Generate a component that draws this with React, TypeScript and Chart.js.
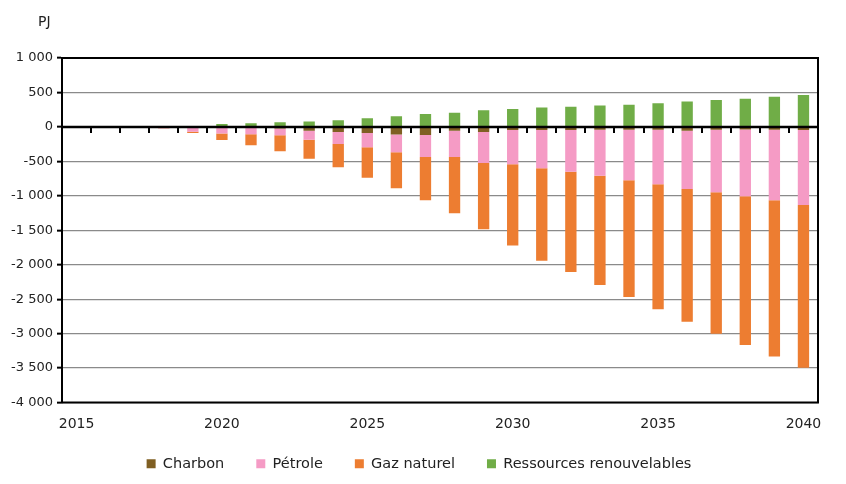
import { useEffect, useRef } from 'react';
import { Chart, registerables } from 'chart.js';

Chart.register(...registerables);

const years = ['2015','2016','2017','2018','2019','2020','2021','2022','2023','2024','2025','2026','2027','2028','2029','2030','2031','2032','2033','2034','2035','2036','2037','2038','2039','2040'];
const shownYears = ['2015','2020','2025','2030','2035','2040'];

const charbon = [0, 0, -3, -5, -5, -8, -12, -25, -55, -75, -88, -112, -118, -55, -75, -45, -45, -45, -42, -40, -40, -55, -40, -38, -40, -45];
const petrole = [0, 0, -9, -13, -65, -86, -96, -98, -130, -174, -209, -257, -319, -382, -449, -498, -556, -605, -666, -735, -794, -846, -909, -969, -1025, -1088];
const gaz = [0, 0, -3, -4, -20, -96, -159, -231, -276, -338, -440, -522, -629, -818, -961, -1177, -1341, -1457, -1588, -1695, -1814, -1926, -2052, -2160, -2266, -2362];
const renouvelables = [0, 0, 3, 5, 0, 42, 52, 67, 77, 96, 125, 154, 187, 207, 241, 260, 280, 294, 309, 323, 342, 367, 390, 410, 439, 463];

const yMin = -4000;
const yMax = 1000;
const yStep = 500;
const unitLabel = 'PJ';

const FONT = "'DejaVu Sans', sans-serif";

function fmt(v: number): string {
  const a = Math.abs(v);
  const s = v < 0 ? '-' : '';
  if (a >= 1000) {
    const th = Math.floor(a / 1000);
    const rest = String(a % 1000).padStart(3, '0');
    return s + th + ' ' + rest;
  }
  return String(v);
}

const overlay = {
  id: 'overlay',
  afterDatasetsDraw(chart: any) {
    const { ctx, chartArea, scales } = chart;
    const { left, right, top, bottom } = chartArea;
    const x = scales.x;
    const y = scales.y;
    const y0 = y.getPixelForValue(0);
    ctx.save();
    ctx.strokeStyle = '#000';
    ctx.lineWidth = 2.5;
    ctx.beginPath();
    ctx.moveTo(left, y0);
    ctx.lineTo(right, y0);
    ctx.stroke();
    ctx.lineWidth = 2;
    ctx.beginPath();
    for (let i = 0; i < years.length; i++) {
      const xp = Math.round(x.getPixelForValue(i + 0.5));
      ctx.moveTo(xp, y0);
      ctx.lineTo(xp, y0 + 6);
    }
    ctx.stroke();
    ctx.lineWidth = 2;
    ctx.strokeRect(left, top, right - left, bottom - top);
    ctx.restore();
  },
  afterDraw(chart: any) {
    const { ctx } = chart;
    ctx.save();
    ctx.fillStyle = '#222';
    ctx.font = `14px ${FONT}`;
    ctx.textAlign = 'left';
    ctx.textBaseline = 'middle';
    ctx.fillText(unitLabel, 38, 22);
    ctx.restore();
  },
};

export default function App() {
  const ref = useRef<HTMLCanvasElement | null>(null);
  useEffect(() => {
    if (!ref.current) return;
    const chart = new Chart(ref.current, {
      type: 'bar',
      data: {
        labels: years,
        datasets: [
          { label: 'Charbon', data: charbon, backgroundColor: '#7F5F22', borderWidth: 0, stack: 's' },
          { label: 'Pétrole', data: petrole, backgroundColor: '#F59BC5', borderWidth: 0, stack: 's' },
          { label: 'Gaz naturel', data: gaz, backgroundColor: '#ED7D31', borderWidth: 0, stack: 's' },
          { label: 'Ressources renouvelables', data: renouvelables, backgroundColor: '#70AD47', borderWidth: 0, stack: 's' },
        ],
      },
      options: {
        animation: false,
        responsive: true,
        maintainAspectRatio: false,
        layout: { padding: { left: 0, right: 8, top: 58, bottom: 3 } },
        datasets: { bar: { barPercentage: 0.39, categoryPercentage: 1 } } as any,
        plugins: {
          title: { display: false },
          tooltip: { enabled: false },
          legend: {
            position: 'bottom',
            fullSize: true,
            labels: {
              boxWidth: 9,
              boxHeight: 9,
              padding: 32,
              color: '#222',
              font: { family: FONT, size: 14.5 },
            },
          },
        },
        scales: {
          x: {
            stacked: true,
            grid: { display: false },
            border: { display: false },
            afterFit: (s: any) => { s.height = 22; s.paddingLeft = 0; s.paddingRight = 0; },
            ticks: {
              autoSkip: false,
              maxRotation: 0,
              mirror: true,
              padding: -30,
              color: '#222',
              font: { family: FONT, size: 14 },
              callback: function (_v: any, i: number) {
                const l = years[i];
                return shownYears.includes(l) ? l : '';
              },
            },
          },
          y: {
            stacked: true,
            min: yMin,
            max: yMax,
            afterFit: (s: any) => { s.width = 62; },
            border: { display: true, color: '#000', width: 2 },
            grid: {
              color: '#8a8a8a',
              lineWidth: 1.3,
              tickColor: '#000',
              tickLength: 5,
              tickWidth: 2,
            },
            ticks: {
              stepSize: yStep,
              padding: 4,
              color: '#222',
              font: { family: FONT, size: 13 },
              callback: (v: any) => fmt(Number(v)),
            },
          },
          spacer: {
            type: 'linear',
            position: 'right',
            display: true,
            grid: { display: false },
            border: { display: false },
            ticks: { display: false },
            afterFit: (s: any) => { s.width = 20; },
          },
        },
      },
      plugins: [overlay],
    });
    return () => chart.destroy();
  }, []);
  return (
    <div style={{ position: 'fixed', left: 0, top: 0, width: 846, height: 484, background: '#fff' }}>
      <canvas ref={ref} />
    </div>
  );
}
